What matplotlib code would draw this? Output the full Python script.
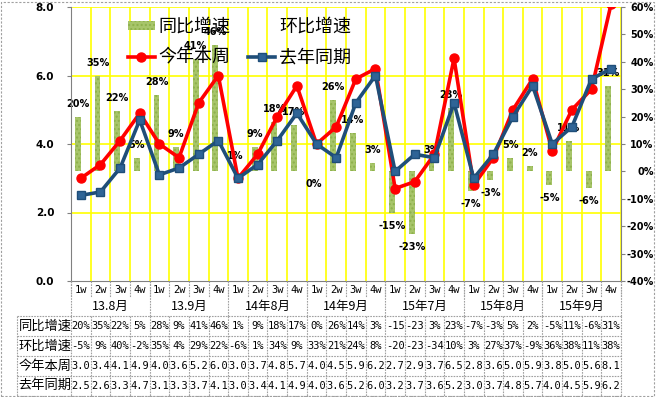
import matplotlib
matplotlib.use("Agg")
import matplotlib.pyplot as plt
import numpy as np
from matplotlib.patches import Patch, Rectangle
from matplotlib.lines import Line2D

plt.rcParams['font.family'] = ['Noto Sans CJK SC', 'DejaVu Sans']

# ---------------- data ----------------
months = ["13.8月", "13.9月", "14年8月", "14年9月", "15年7月", "15年8月", "15年9月"]
weeks = ["1w", "2w", "3w", "4w"]
yoy = [20, 35, 22, 5, 28, 9, 41, 46, 1, 9, 18, 17, 0, 26, 14, 3,
       -15, -23, 3, 23, -7, -3, 5, 2, -5, 11, -6, 31]
mom = [-5, 9, 40, -2, 35, 4, 29, 22, -6, 1, 34, 9, 33, 21, 24, 8,
       -20, -23, -34, 10, 3, 27, 37, -9, 36, 38, 11, 38]
this_year = [3.0, 3.4, 4.1, 4.9, 4.0, 3.6, 5.2, 6.0, 3.0, 3.7, 4.8, 5.7, 4.0, 4.5, 5.9, 6.2,
             2.7, 2.9, 3.7, 6.5, 2.8, 3.6, 5.0, 5.9, 3.8, 5.0, 5.6, 8.1]
last_year = [2.5, 2.6, 3.3, 4.7, 3.1, 3.3, 3.7, 4.1, 3.0, 3.4, 4.1, 4.9, 4.0, 3.6, 5.2, 6.0,
             3.2, 3.7, 3.6, 5.2, 3.0, 3.7, 4.8, 5.7, 4.0, 4.5, 5.9, 6.2]
row_names = ["同比增速", "环比增速", "今年本周", "去年同期"]
left_ticks = [0.0, 2.0, 4.0, 6.0, 8.0]
right_ticks = [-40, -30, -20, -10, 0, 10, 20, 30, 40, 50, 60]

n = len(yoy)
x = np.arange(n)

# ---------------- layout (pixels) ----------------
W, H = 656, 397
L, R, T, B = 71, 621, 7, 281
LABL = 17
row_edges = [316, 336, 356, 376, 395.5]
week_row = (281, 297)
month_row = (297, 316)

fig = plt.figure(figsize=(W / 100, H / 100), dpi=100)
fig.patch.set_facecolor("white")

# primary axes: percentage scale (bars); secondary: value scale (lines)
ax = fig.add_axes([L / W, (H - B) / H, (R - L) / W, (B - T) / H])
ax2 = ax.twinx()

ax.set_xlim(-0.5, n - 0.5)
ax.set_ylim(-40, 60)
ax.yaxis.tick_right()
ax.set_yticks(right_ticks)
ax.set_yticklabels([f"{v}%" for v in right_ticks], fontsize=7, fontweight="bold",
                   family="DejaVu Sans", ha="right")
ax.tick_params(axis="y", length=3, color="#808080", pad=20.5)
ax.set_xticks([])
for s in ["top", "left"]:
    ax.spines[s].set_visible(False)
for s in ["right", "bottom"]:
    ax.spines[s].set_color("#808080")

ax2.set_ylim(0, 8)
ax2.yaxis.tick_left()
ax2.set_yticks(left_ticks)
ax2.set_yticklabels([f"{v:.1f}" for v in left_ticks], fontsize=7.5, fontweight="bold",
                    family="DejaVu Sans")
ax2.tick_params(axis="y", length=3, color="#808080", pad=9)
ax2.set_xticks([])
for s in ["top", "right", "bottom"]:
    ax2.spines[s].set_visible(False)
ax2.spines["left"].set_color("#808080")

# gridlines (yellow) on primary axes, behind bars
ax.set_xticks(np.arange(n + 1) - 0.5, minor=True)
ax.tick_params(axis="x", which="minor", length=0)
ax.grid(True, which="minor", axis="x", color="#FFFF00", lw=1.2, zorder=0)
lo, hi = ax.get_ylim()
for v in left_ticks[1:]:
    ax.axhline(lo + v / 8 * (hi - lo), color="#FFFF00", lw=1.2, zorder=0.5)
ax.set_axisbelow(True)

# bars
bw = 0.3
ax.bar(x - 0.15, yoy, width=bw, color="#A7C56A", edgecolor="#8DB04A",
       hatch="....", lw=0, zorder=2)
ax.bar(x + 0.15, mom, width=bw, color="none", lw=0, zorder=2)
for xi, v in zip(x, yoy):
    off = 13 if v > 0 else -13
    ax.annotate(f"{v}%", (xi - 0.15, v), xytext=(0, off), textcoords="offset pixels",
                ha="center", va="center", fontsize=7, fontweight="bold",
                family="DejaVu Sans", color="black", zorder=5)

# lines
ax2.plot(x, this_year, color="#FF0000", lw=2.6, marker="o", ms=6.5,
         markerfacecolor="#FF0000", markeredgecolor="#FF0000", zorder=4)
ax2.plot(x, last_year, color="#1F4E79", lw=2.6, marker="s", ms=5.5,
         markerfacecolor="#2F6496", markeredgecolor="#1F4E79", zorder=4)

# legend
handles = [Patch(facecolor="#A7C56A", edgecolor="#8DB04A", hatch="....", lw=0),
           Line2D([], [], color="#FF0000", lw=2.6, marker="o", ms=6.5),
           Patch(facecolor="none", edgecolor="none"),
           Line2D([], [], color="#1F4E79", lw=2.6, marker="s", ms=5.5,
                  markerfacecolor="#2F6496", markeredgecolor="#1F4E79")]
labels = ["同比增速", "今年本周", "环比增速", "去年同期"]
leg = fig.legend(handles, labels, ncol=2, loc="upper left",
                 bbox_to_anchor=(115 / W, 1 - 5 / H), frameon=False,
                 fontsize=13, handlelength=1.5, handleheight=0.4,
                 handletextpad=0.2, columnspacing=1.0, labelspacing=0.7,
                 borderpad=0.2)
leg.set_zorder(3)

# ---------------- table / category area ----------------
tax = fig.add_axes([L / W, 0, (R - L) / W, (H - B) / H])
tax.set_xlim(-0.5, n - 0.5)
tax.set_ylim(H, B)
tax.axis("off")
unit = (R - L) / n
xlab = -0.5 - (L - LABL) / unit
lc = "#A0A0A0"
ls = (0, (1.5, 1))

# week row
for i in range(n + 1):
    tax.plot([i - 0.5, i - 0.5], [week_row[0], week_row[1]], color=lc, lw=0.8, ls=ls, clip_on=False)
for i in range(n):
    tax.text(i, (week_row[0] + week_row[1]) / 2 + 1, weeks[i % 4], ha="center", va="center",
             fontsize=7.5, family="DejaVu Sans Mono", clip_on=False)
# month row
for m in range(len(months) + 1):
    xm = m * 4 - 0.5
    tax.plot([xm, xm], [week_row[0], month_row[1]], color=lc, lw=0.8, ls=ls, clip_on=False)
for m, name in enumerate(months):
    tax.text(m * 4 + 1.5, (month_row[0] + month_row[1]) / 2, name, ha="center", va="center",
             fontsize=9, clip_on=False)

# data rows
rows = [yoy, mom, this_year, last_year]
fmts = [lambda v: f"{v}%"[:3], lambda v: f"{v}%"[:3],
        lambda v: f"{v:.1f}", lambda v: f"{v:.1f}"]
for e in row_edges:
    tax.plot([xlab, n - 0.5], [e, e], color=lc, lw=0.8, ls=ls, clip_on=False)
for xv in [xlab] + [i - 0.5 for i in range(n + 1)]:
    tax.plot([xv, xv], [row_edges[0], row_edges[-1]], color=lc, lw=0.8, ls=ls, clip_on=False)
for r, (name, vals, f) in enumerate(zip(row_names, rows, fmts)):
    yc = (row_edges[r] + row_edges[r + 1]) / 2
    tax.text(xlab + 0.08, yc, name, ha="left", va="center", fontsize=9.5, clip_on=False)
    for i, v in enumerate(vals):
        tax.text(i, yc, f(v), ha="center", va="center", fontsize=7.5,
                 family="DejaVu Sans Mono", clip_on=False)

# outer dotted border
fig.patches.append(Rectangle((1 / W, 1 / H), (W - 3) / W, (H - 3) / H, transform=fig.transFigure,
                             fill=False, edgecolor="#A0A0A0", lw=0.8, ls=(0, (2, 1.5))))

fig.savefig("out.png", dpi=100)
